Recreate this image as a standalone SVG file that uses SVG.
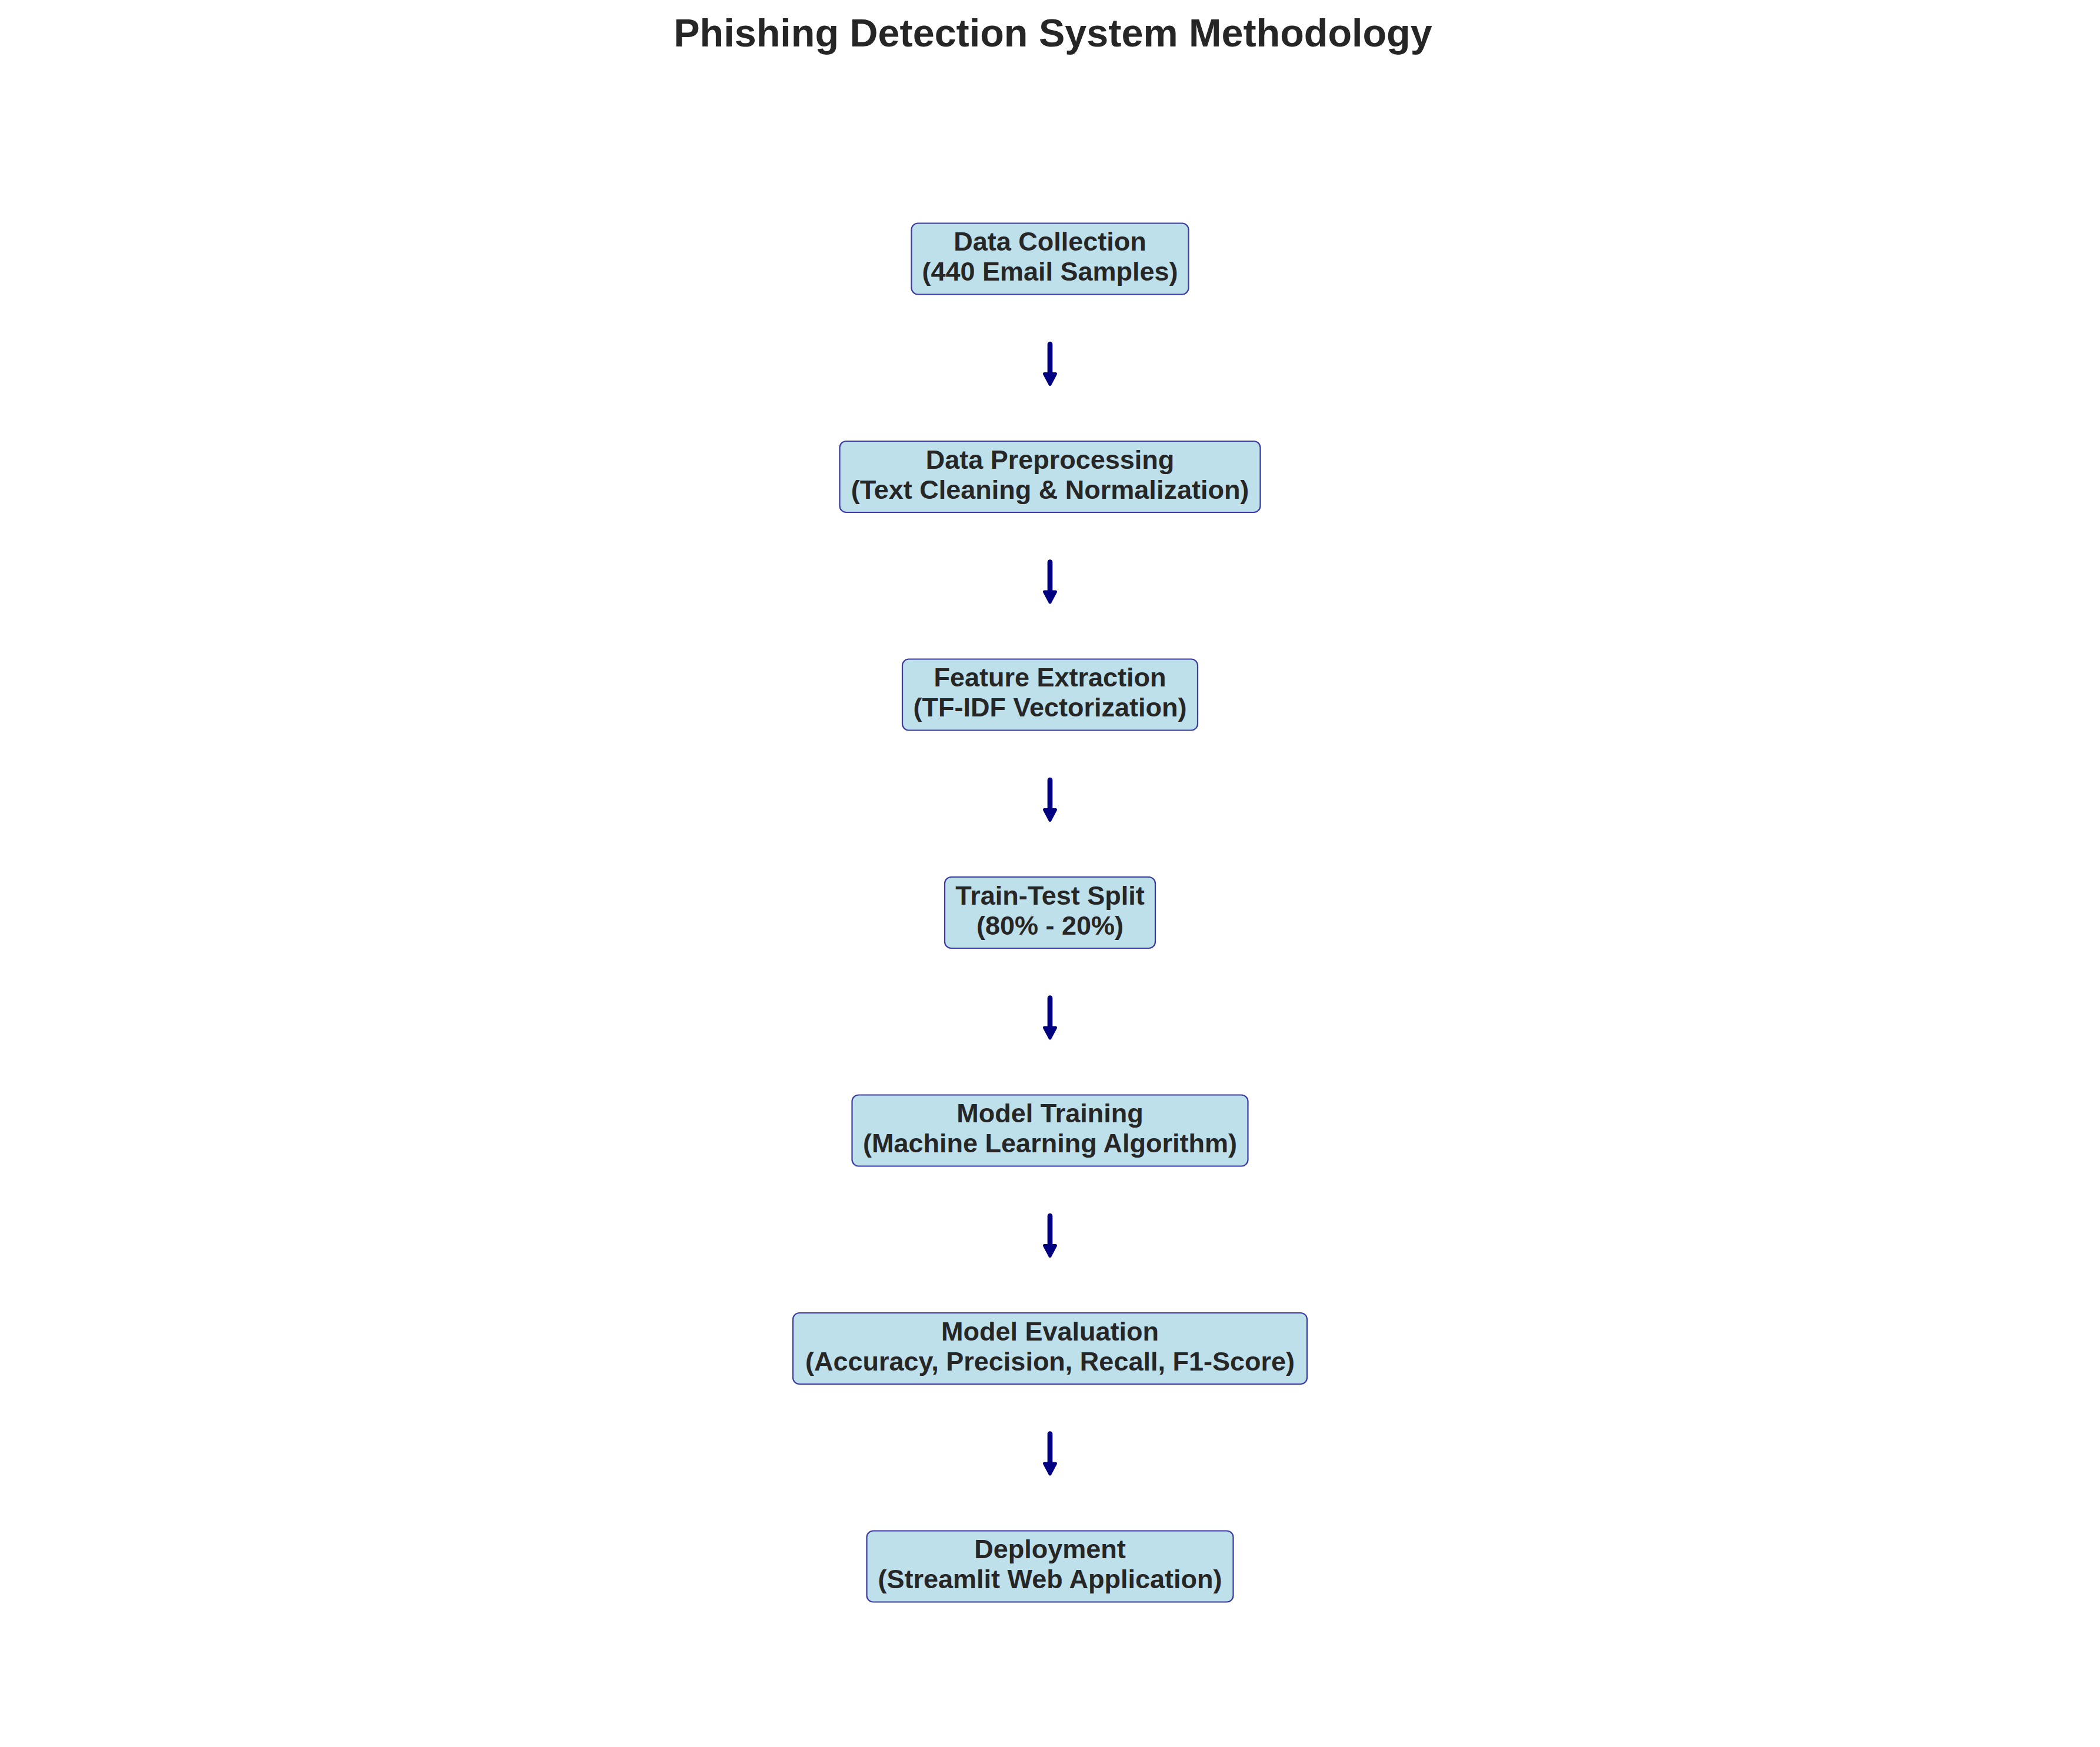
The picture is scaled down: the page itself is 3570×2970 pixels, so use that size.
<svg xmlns="http://www.w3.org/2000/svg" width="3570" height="2970" viewBox="0 0 3570 2970">
<defs>
<style>
.box{fill:#BDE0EB;stroke:#3B3BA3;stroke-width:2.2}
.lbl{font-family:"Liberation Sans",Arial,sans-serif;font-weight:bold;font-size:45px;fill:#262626;text-anchor:middle}
.title{font-family:"Liberation Sans",Arial,sans-serif;font-weight:bold;font-size:66.5px;fill:#262626;text-anchor:middle}
.shaft{stroke:#000080;stroke-width:8.7;stroke-linecap:round;fill:none}
.head{fill:#000080;stroke:#000080;stroke-width:5;stroke-linejoin:round}
</style>
</defs>
<rect width="3570" height="2970" fill="#ffffff"/>
<text class="title" x="1790" y="79">Phishing Detection System Methodology</text>
<g id="connectors">
<g transform="translate(0,0)"><line class="shaft" x1="1785" y1="585" x2="1785" y2="638"/><polygon class="head" points="1785,653.5 1775.5,635.5 1794.5,635.5"/></g>
<g transform="translate(0,370.5)"><line class="shaft" x1="1785" y1="585" x2="1785" y2="638"/><polygon class="head" points="1785,653.5 1775.5,635.5 1794.5,635.5"/></g>
<g transform="translate(0,741)"><line class="shaft" x1="1785" y1="585" x2="1785" y2="638"/><polygon class="head" points="1785,653.5 1775.5,635.5 1794.5,635.5"/></g>
<g transform="translate(0,1111.5)"><line class="shaft" x1="1785" y1="585" x2="1785" y2="638"/><polygon class="head" points="1785,653.5 1775.5,635.5 1794.5,635.5"/></g>
<g transform="translate(0,1482)"><line class="shaft" x1="1785" y1="585" x2="1785" y2="638"/><polygon class="head" points="1785,653.5 1775.5,635.5 1794.5,635.5"/></g>
<g transform="translate(0,1852.5)"><line class="shaft" x1="1785" y1="585" x2="1785" y2="638"/><polygon class="head" points="1785,653.5 1775.5,635.5 1794.5,635.5"/></g>
</g>
<g id="node1"><rect class="box" x="1549.5" y="379.5" width="471" height="121" rx="11"/><text class="lbl" x="1785" y="426">Data Collection</text><text class="lbl" x="1785" y="477">(440 Email Samples)</text></g>
<g id="node2"><rect class="box" x="1427.5" y="750" width="715" height="121" rx="11"/><text class="lbl" x="1785" y="796.5">Data Preprocessing</text><text class="lbl" x="1785" y="847.5">(Text Cleaning &amp; Normalization)</text></g>
<g id="node3"><rect class="box" x="1534" y="1120.5" width="502" height="121" rx="11"/><text class="lbl" x="1785" y="1167">Feature Extraction</text><text class="lbl" x="1785" y="1218">(TF-IDF Vectorization)</text></g>
<g id="node4"><rect class="box" x="1606" y="1491" width="358" height="121" rx="11"/><text class="lbl" x="1785" y="1537.5">Train-Test Split</text><text class="lbl" x="1785" y="1588.5">(80% - 20%)</text></g>
<g id="node5"><rect class="box" x="1448.5" y="1861.5" width="673" height="121" rx="11"/><text class="lbl" x="1785" y="1908">Model Training</text><text class="lbl" x="1785" y="1959">(Machine Learning Algorithm)</text></g>
<g id="node6"><rect class="box" x="1348" y="2232" width="874" height="121" rx="11"/><text class="lbl" x="1785" y="2278.5">Model Evaluation</text><text class="lbl" x="1785" y="2329.5">(Accuracy, Precision, Recall, F1-Score)</text></g>
<g id="node7"><rect class="box" x="1473.5" y="2602.5" width="623" height="121" rx="11"/><text class="lbl" x="1785" y="2649">Deployment</text><text class="lbl" x="1785" y="2700">(Streamlit Web Application)</text></g>
</svg>
